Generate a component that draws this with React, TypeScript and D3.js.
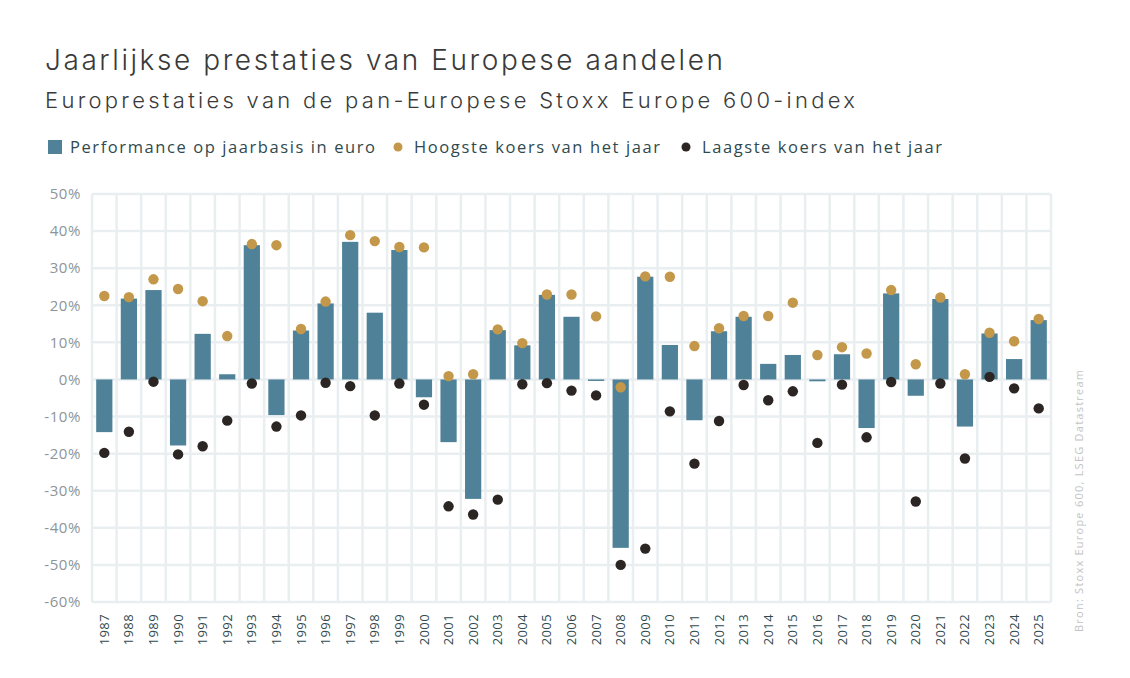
import { useEffect, useRef } from 'react';
import * as d3 from 'd3';

// Stoxx Europe 600, yearly figures (%)
const years = d3.range(1987, 2026).map(String);

const performance = [
  -14.2, 21.8, 24.1, -17.8, 12.3, 1.4, 36.2, -9.6, 13.2, 20.5,
  37.1, 18.0, 34.9, -4.8, -16.9, -32.2, 13.3, 9.2, 22.8, 16.9,
  -0.3, -45.4, 27.7, 9.3, -11.0, 13.0, 16.9, 4.2, 6.6, -0.5,
  6.8, -13.1, 23.2, -4.4, 21.7, -12.7, 12.4, 5.5, 16.0,
];

const yearHigh = [
  22.5, 22.2, 27.0, 24.4, 21.1, 11.7, 36.5, 36.2, 13.6, 21.0,
  38.9, 37.3, 35.7, 35.6, 0.9, 1.4, 13.5, 9.8, 22.9, 22.9,
  17.0, -2.1, 27.8, 27.7, 9.0, 13.8, 17.1, 17.1, 20.7, 6.6,
  8.7, 7.0, 24.1, 4.1, 22.1, 1.4, 12.6, 10.3, 16.3,
];

const yearLow = [
  -19.8, -14.1, -0.6, -20.2, -18.0, -11.1, -1.1, -12.7, -9.7, -0.9,
  -1.8, -9.7, -1.1, -6.8, -34.2, -36.4, -32.4, -1.3, -1.0, -3.0,
  -4.3, -50.0, -45.6, -8.6, -22.7, -11.2, -1.5, -5.6, -3.2, -17.1,
  -1.4, -15.6, -0.7, -32.9, -1.1, -21.3, 0.7, -2.4, -7.8,
];

const yTicks = [50, 40, 30, 20, 10, 0, -10, -20, -30, -40, -50, -60];

const legendItems = [
  { label: 'Performance op jaarbasis in euro', kind: 'bar' },
  { label: 'Hoogste koers van het jaar', kind: 'high' },
  { label: 'Laagste koers van het jaar', kind: 'low' },
];

const colors = {
  bar: '#4f8299',
  high: '#c4984a',
  low: '#2b2523',
  grid: '#e9eef0',
  text: '#2f4a4e',
  axis: '#8d9597',
};

const width = 1130;
const height = 678;

const App = () => {
  const svgRef = useRef<SVGSVGElement | null>(null);

  useEffect(() => {
    const svg = d3.select(svgRef.current);
    svg.selectAll('*').remove();

    const margin = { top: 194, right: 79, bottom: 76, left: 92 };

    const x = d3.scaleBand()
      .domain(years)
      .range([margin.left, width - margin.right])
      .padding(0);

    const y = d3.scaleLinear()
      .domain([-60, 50])
      .range([height - margin.bottom, margin.top]);

    const barW = x.bandwidth() * 0.66;

    // titles (the original face is wider, so stretch the spacing)
    svg.append('text')
      .attr('x', 45)
      .attr('y', 70)
      .attr('font-family', 'Inter, sans-serif')
      .attr('font-weight', 300)
      .attr('font-size', 28)
      .attr('fill', '#3a3a3a')
      .attr('textLength', 678)
      .attr('lengthAdjust', 'spacing')
      .text('Jaarlijkse prestaties van Europese aandelen');

    svg.append('text')
      .attr('x', 45)
      .attr('y', 108)
      .attr('font-family', 'Inter, sans-serif')
      .attr('font-weight', 300)
      .attr('font-size', 22)
      .attr('fill', '#3a3a3a')
      .attr('textLength', 810)
      .attr('lengthAdjust', 'spacing')
      .text('Europrestaties van de pan-Europese Stoxx Europe 600-index');

    // legend
    const legendX = [48, 394, 682];
    const legendLen = [305, 246, 240];
    const legend = svg.append('g')
      .attr('font-family', '"Open Sans", sans-serif')
      .attr('font-size', 16.5)
      .attr('fill', colors.text);

    legendItems.forEach((item, i) => {
      const g = legend.append('g').attr('transform', `translate(${legendX[i]}, 147)`);
      if (item.kind === 'bar') {
        g.append('rect')
          .attr('x', 0).attr('y', -7)
          .attr('width', 14).attr('height', 14)
          .attr('fill', colors.bar);
      } else {
        g.append('circle')
          .attr('cx', 4).attr('cy', 0).attr('r', 4.5)
          .attr('fill', item.kind === 'high' ? colors.high : colors.low);
      }
      g.append('text')
        .attr('x', item.kind === 'bar' ? 22 : 20)
        .attr('dy', '0.35em')
        .attr('textLength', legendLen[i])
        .attr('lengthAdjust', 'spacing')
        .text(item.label);
    });

    // grid
    const grid = svg.append('g')
      .attr('stroke', colors.grid)
      .attr('stroke-width', 2.5);

    grid.selectAll('line.h')
      .data(yTicks)
      .join('line')
      .attr('class', 'h')
      .attr('x1', margin.left)
      .attr('x2', width - margin.right)
      .attr('y1', (d) => y(d))
      .attr('y2', (d) => y(d));

    const vLines = [...years.map((yr) => x(yr) ?? 0), width - margin.right];
    grid.selectAll('line.v')
      .data(vLines)
      .join('line')
      .attr('class', 'v')
      .attr('x1', (d) => d)
      .attr('x2', (d) => d)
      .attr('y1', y(50))
      .attr('y2', y(-60));

    // y axis labels
    svg.append('g')
      .attr('font-family', '"Open Sans", sans-serif')
      .attr('font-size', 15)
      .attr('letter-spacing', 0.6)
      .attr('fill', colors.axis)
      .attr('text-anchor', 'end')
      .selectAll('text')
      .data(yTicks)
      .join('text')
      .attr('x', 81)
      .attr('y', (d) => y(d))
      .attr('dy', '0.35em')
      .text((d) => `${d}%`);

    // x axis labels
    svg.append('g')
      .attr('font-family', '"Open Sans", sans-serif')
      .attr('font-size', 13)
      .attr('letter-spacing', 0.4)
      .attr('fill', colors.text)
      .attr('text-anchor', 'end')
      .selectAll('text')
      .data(years)
      .join('text')
      .attr('transform', (d) => `translate(${(x(d) ?? 0) + x.bandwidth() / 2}, 614) rotate(-90)`)
      .attr('dy', '0.35em')
      .text((d) => d);

    // bars
    svg.append('g')
      .selectAll('rect')
      .data(performance)
      .join('rect')
      .attr('x', (_, i) => (x(years[i]) ?? 0) + (x.bandwidth() - barW) / 2)
      .attr('y', (d) => y(Math.max(0, d)))
      .attr('width', barW)
      .attr('height', (d) => Math.max(1.5, Math.abs(y(d) - y(0))))
      .attr('fill', colors.bar);

    // high / low dots
    const cx = (i: number) => (x(years[i]) ?? 0) + x.bandwidth() / 2;

    svg.append('g')
      .selectAll('circle')
      .data(yearHigh)
      .join('circle')
      .attr('cx', (_, i) => cx(i))
      .attr('cy', (d) => y(d))
      .attr('r', 5.2)
      .attr('fill', colors.high);

    svg.append('g')
      .selectAll('circle')
      .data(yearLow)
      .join('circle')
      .attr('cx', (_, i) => cx(i))
      .attr('cy', (d) => y(d))
      .attr('r', 5.2)
      .attr('fill', colors.low);

    // source
    svg.append('text')
      .attr('transform', 'translate(1083, 632) rotate(-90)')
      .attr('font-family', '"Open Sans", sans-serif')
      .attr('font-size', 11)
      .attr('fill', '#c2c4c5')
      .attr('textLength', 262)
      .attr('lengthAdjust', 'spacing')
      .text('Bron: Stoxx Europe 600, LSEG Datastream');
  }, []);

  return (
    <svg
      ref={svgRef}
      width={width}
      height={height}
      style={{ position: 'absolute', left: 0, top: 0, background: '#fff' }}
    />
  );
};

export default App;
